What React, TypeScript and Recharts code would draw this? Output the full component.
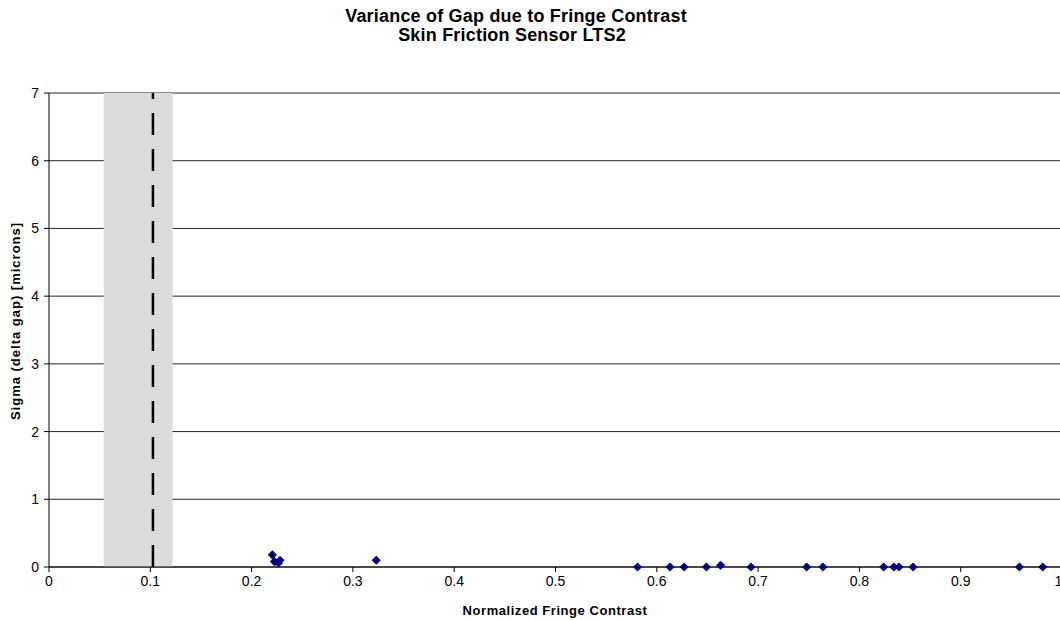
import React from 'react';
import {
  ScatterChart, Scatter, XAxis, YAxis, CartesianGrid,
  ReferenceArea, ReferenceLine
} from 'recharts';

// fringe contrast (x) vs sigma of delta gap in microns (y)
const contrast = [
  0.2205, 0.2225, 0.2265, 0.228, 0.323,
  0.581, 0.613, 0.627, 0.649, 0.663, 0.693,
  0.748, 0.764, 0.824, 0.834, 0.839, 0.853, 0.958, 0.981,
];
const sigma = [
  0.18, 0.08, 0.06, 0.1, 0.1,
  0, 0, 0, 0, 0.025, 0,
  0, 0, 0, 0, 0, 0, 0, 0,
];

const xTicks = [0, 0.1, 0.2, 0.3, 0.4, 0.5, 0.6, 0.7, 0.8, 0.9, 1];
const yTicks = [0, 1, 2, 3, 4, 5, 6, 7];

// shaded band and threshold line
const bandFrom = 0.054;
const bandTo = 0.122;
const threshold = 0.1026;

const points = contrast.map((c, i) => ({ x: c, y: sigma[i] }));

const font = 'Arial, "Liberation Sans", Helvetica, sans-serif';

// Excel style marker: a square turned 45 degrees
const Diamond = (props: any) => {
  const { cx, cy } = props;
  const r = 4.6;
  return (
    <polygon
      points={`${cx},${cy - r} ${cx + r},${cy} ${cx},${cy + r} ${cx - r},${cy}`}
      fill="#000080"
    />
  );
};

export default function App() {
  return (
    <div style={{
      position: 'absolute', left: 0, top: 0, width: 1060, height: 620,
      overflow: 'hidden', background: '#fff', fontFamily: font,
    }}>
      <ScatterChart width={1062} height={620} margin={{ top: 93, right: 0, bottom: 23, left: 9 }}>
        <CartesianGrid horizontal vertical={false} stroke="#000" strokeOpacity={0.85} />
        <ReferenceArea x1={bandFrom} x2={bandTo} y1={0} y2={7} fill="#dcdcdc" fillOpacity={1} stroke="none" />
        <ReferenceLine x={threshold} stroke="#000" strokeWidth={2.5} strokeDasharray="22 14" />
        <XAxis
          type="number"
          dataKey="x"
          domain={[0, 1]}
          ticks={xTicks}
          height={30}
          tickSize={5}
          tickMargin={4}
          fontSize={14}
          axisLine={{ stroke: '#000' }}
          tickLine={{ stroke: '#000' }}
          tick={{ fontSize: 14, fill: '#000', fontFamily: font }}
          tickFormatter={(v: number) => String(v)}
        />
        <YAxis
          type="number"
          dataKey="y"
          domain={[0, 7]}
          ticks={yTicks}
          width={40}
          tickSize={5}
          tickMargin={5}
          fontSize={14}
          axisLine={{ stroke: '#000' }}
          tickLine={{ stroke: '#000' }}
          tick={{ fontSize: 14, fill: '#000', fontFamily: font }}
        />
        <Scatter data={points} shape={<Diamond />} fill="#000080" isAnimationActive={false} />
      </ScatterChart>
      <svg width={1060} height={620} style={{ position: 'absolute', left: 0, top: 0, pointerEvents: 'none' }}>
        <text x={516} y={22} textAnchor="middle" fontFamily={font} fontWeight="bold" fontSize={18} letterSpacing={0.2}>
          Variance of Gap due to Fringe Contrast
        </text>
        <text x={512} y={41} textAnchor="middle" fontFamily={font} fontWeight="bold" fontSize={18} letterSpacing={0.2}>
          Skin Friction Sensor LTS2
        </text>
        <text x={555} y={615} textAnchor="middle" fontFamily={font} fontWeight="bold" fontSize={13} letterSpacing={0.55}>
          Normalized Fringe Contrast
        </text>
        <text
          x={20}
          y={321}
          textAnchor="middle"
          fontFamily={font}
          fontWeight="bold"
          fontSize={13}
          letterSpacing={1}
          transform="rotate(-90 20 321)"
        >
          Sigma (delta gap) [microns]
        </text>
      </svg>
    </div>
  );
}
